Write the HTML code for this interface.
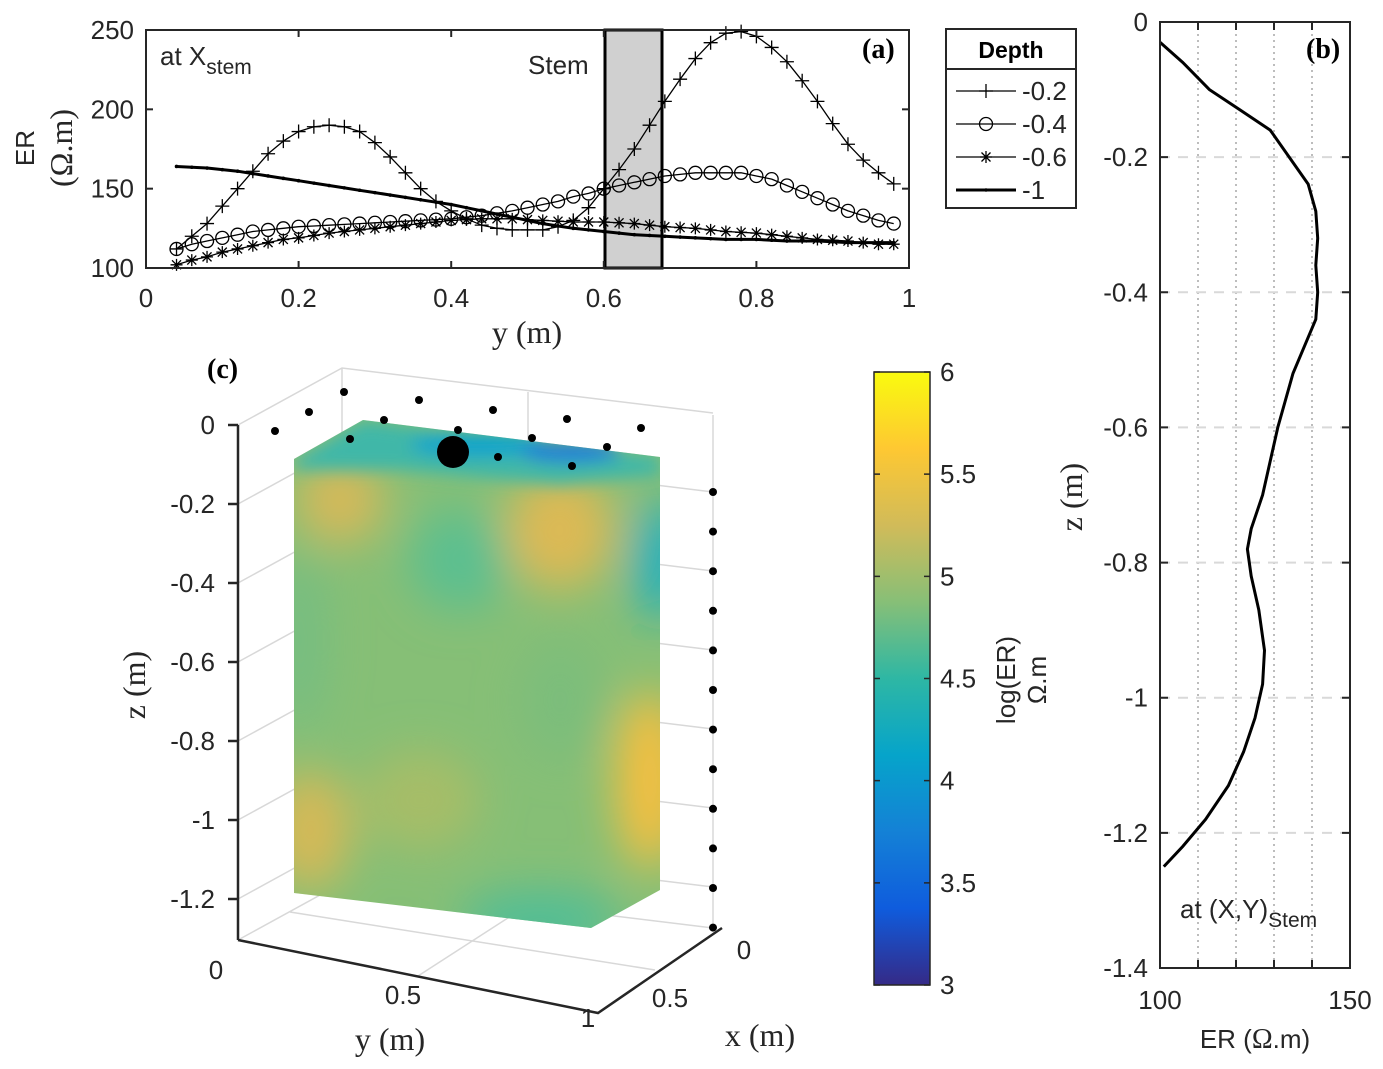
<!DOCTYPE html>
<html><head><meta charset="utf-8"><style>
html,body{margin:0;padding:0;background:#fff}
svg{display:block}
.t{font-family:"Liberation Sans",sans-serif;font-size:26px;fill:#262626}
.s{font-family:"Liberation Serif",serif;font-size:32px;fill:#262626}
.b{font-family:"Liberation Serif",serif;font-size:28px;font-weight:bold;fill:#000}
</style></head><body>
<svg id="fig" width="1383" height="1069" viewBox="0 0 1383 1069" xmlns="http://www.w3.org/2000/svg">
<defs>
<linearGradient id="parula" x1="0" y1="1" x2="0" y2="0">
<stop offset="0" stop-color="#352a87"/><stop offset="0.125" stop-color="#0f5cdd"/><stop offset="0.25" stop-color="#1481d6"/><stop offset="0.375" stop-color="#06a4ca"/><stop offset="0.5" stop-color="#2eb7a4"/><stop offset="0.625" stop-color="#87bf77"/><stop offset="0.75" stop-color="#d1bb59"/><stop offset="0.875" stop-color="#fec832"/><stop offset="1" stop-color="#f9fb0e"/>
</linearGradient>
<clipPath id="boxclip"><polygon points="294,459 363,420 660,457 660,890 591,928 294,893"/></clipPath>
<filter id="blur" x="-50%" y="-50%" width="200%" height="200%"><feGaussianBlur stdDeviation="22"/></filter>
<filter id="blur2" x="-50%" y="-50%" width="200%" height="200%"><feGaussianBlur stdDeviation="8"/></filter>
</defs>

<g id="panelA">
<rect x="605" y="30" width="57" height="238" fill="#d0d0d0" stroke="#000" stroke-width="3"/>
<g id="aMarks"></g>
<rect x="146" y="30" width="763" height="238" fill="none" stroke="#262626" stroke-width="2"/>
<g id="aTicks"></g>
<text class="t" x="160" y="65">at X<tspan font-size="21" dy="9">stem</tspan></text>
<text class="t" x="528" y="74">Stem</text>
<text class="b" x="862" y="58">(a)</text>
<text class="t" transform="translate(34,148) rotate(-90)" text-anchor="middle">ER</text>
<text class="s" transform="translate(72,148) rotate(-90)" text-anchor="middle">(Ω.m)</text>
<text class="s" x="527" y="343" text-anchor="middle">y (m)</text>
</g>

<g id="legend">
<rect x="946" y="29" width="130" height="179" fill="#fff" stroke="#262626" stroke-width="2"/>
<line x1="946" y1="69" x2="1076" y2="69" stroke="#262626" stroke-width="2"/>
<text x="1011" y="58" text-anchor="middle" style="font-family:'Liberation Sans',sans-serif;font-weight:bold;font-size:23px;fill:#000">Depth</text>
<g id="legItems"></g>
</g>

<g id="panelB">
<g id="bGrid"></g>
<path id="bLine" fill="none" stroke="#000" stroke-width="3"/>
<rect x="1160" y="22" width="190" height="946" fill="none" stroke="#262626" stroke-width="2"/>
<g id="bTicks"></g>
<text class="b" x="1306" y="58">(b)</text>
<text class="t" x="1180" y="918">at (X,Y)<tspan font-size="21" dy="9">Stem</tspan></text>
<text class="s" transform="translate(1082,497) rotate(-90)" text-anchor="middle">z (m)</text>
<text class="t" x="1255" y="1048" text-anchor="middle">ER (<tspan class="s" style="font-size:28px">Ω</tspan>.m)</text>
</g>

<g id="panelC">
<g id="cGrid" stroke="#d8d8d8" stroke-width="1.5" fill="none"></g>
<g clip-path="url(#boxclip)">
<rect x="280" y="400" width="400" height="540" fill="#86bf76"/>
<g filter="url(#blur)">
<ellipse cx="340" cy="500" rx="45" ry="45" fill="#d4b95a"/>
<ellipse cx="560" cy="530" rx="55" ry="60" fill="#dcb955"/>
<ellipse cx="460" cy="560" rx="50" ry="50" fill="#5cbf90"/>
<ellipse cx="660" cy="560" rx="25" ry="60" fill="#1eaec4"/>
<ellipse cx="310" cy="830" rx="40" ry="60" fill="#d6b957"/>
<ellipse cx="650" cy="780" rx="35" ry="90" fill="#f5bf40"/>
<ellipse cx="560" cy="700" rx="40" ry="60" fill="#7cbd7b"/>
<ellipse cx="540" cy="920" rx="80" ry="30" fill="#4fbd97"/>
<ellipse cx="300" cy="640" rx="25" ry="90" fill="#74be82"/>
<ellipse cx="420" cy="800" rx="60" ry="50" fill="#a6bd67"/>
</g>
<g filter="url(#blur2)">
<polygon points="294,459 363,420 660,457 660,475 560,485 400,470 294,470" fill="#40b7a8"/>
<ellipse cx="480" cy="445" rx="70" ry="12" fill="#10a4cc"/>
<ellipse cx="570" cy="452" rx="50" ry="10" fill="#1a7fd8"/>
</g>
</g>
<g id="cDots"></g>
<g id="cAxes"></g>
<text class="b" x="207" y="378">(c)</text>
<text class="s" transform="translate(145,685) rotate(-90)" text-anchor="middle">z (m)</text>
<text class="s" x="390" y="1050" text-anchor="middle">y (m)</text>
<text class="s" x="760" y="1046" text-anchor="middle">x (m)</text>
</g>

<g id="colorbar">
<rect x="874" y="372" width="56" height="613" fill="url(#parula)" stroke="#262626" stroke-width="1.5"/>
<g id="cbTicks"></g>
<text class="t" transform="translate(1015,680) rotate(-90)" text-anchor="middle">log(ER)</text>
<text class="t" transform="translate(1046,680) rotate(-90)" text-anchor="middle">Ω.m</text>
</g>
</svg>
<script>
// ---------- Panel (a) data ----------
const aY = [0.04,0.06,0.08,0.10,0.12,0.14,0.16,0.18,0.20,0.22,0.24,0.26,0.28,0.30,0.32,0.34,0.36,0.38,0.40,0.42,0.44,0.46,0.48,0.50,0.52,0.54,0.56,0.58,0.60,0.62,0.64,0.66,0.68,0.70,0.72,0.74,0.76,0.78,0.80,0.82,0.84,0.86,0.88,0.90,0.92,0.94,0.96,0.98];
const erD02 = [112,120,128,139,150,161,172,180,186,189,190,189,186,179,170,160,150,142,136,131,127,125,124,124,124,126,130,138,150,162,175,190,205,219,232,242,248,249,246,239,230,218,205,191,178,168,160,153];
const erD04 = [112,115,117,119,121,123,124,125,126,126.5,127,127.5,128,128.5,129,129.5,130,130.5,131,132,133,134.5,136,138,140,142,145,147,150,152,154,156,158,159,160,160,160,160,158,156,152,148,144,140,136,133,130,128];
const erD06 = [102,105,107,110,112,114,116,118,119,120.5,122,123,124,125,126,127,128,129,130,130.5,131,131,131,130.5,130,129.5,129,129,129,128.5,128,127,126,125.5,125,124,123,122.5,122,121,120,119,118,117.5,117,116,115,115];
const erD10 = [164,163.5,163,162,161,159.5,158,156.5,155,153.5,152,150.5,149,147.5,146,144.5,143,141.5,140,138,136,134,132,130,128,126.5,125,124,123,122,121,120.5,120,119.5,119,118.5,118,118,118,117.5,117,117,117,116.5,116,116,116,116];
const aXTicks = [0,0.2,0.4,0.6,0.8,1];
const aXTickLabels = ["0","0.2","0.4","0.6","0.8","1"];
const aYTicks = [100,150,200,250];
const depthLabels = ["-0.2","-0.4","-0.6","-1"];
// ---------- Panel (b) data ----------
const bZ  = [-0.03,-0.06,-0.10,-0.13,-0.16,-0.20,-0.24,-0.28,-0.32,-0.36,-0.40,-0.44,-0.48,-0.52,-0.56,-0.60,-0.65,-0.70,-0.75,-0.78,-0.82,-0.87,-0.93,-0.98,-1.03,-1.08,-1.13,-1.18,-1.22,-1.25];
const bER = [100,106,113,121,129,134,139,141,141.5,141,141.5,141,138,135,133,131,129,127,124,123,124,126,127.5,127,125,122,118,112,106,101];
const bXTicks = [100,150];
const bGridX = [110,120,130,140];
const bZTicks = [0,-0.2,-0.4,-0.6,-0.8,-1,-1.2,-1.4];
// ---------- Panel (c) ----------
const cZTicks = [0,-0.2,-0.4,-0.6,-0.8,-1,-1.2];
const cbTicks = [3,3.5,4,4.5,5,5.5,6];

const NS="http://www.w3.org/2000/svg";
function mk(tag, attrs, parent){const e=document.createElementNS(NS,tag);for(const k in attrs)e.setAttribute(k,attrs[k]);parent.appendChild(e);return e;}
function txt(str,attrs,parent){const e=mk('text',attrs,parent);e.textContent=str;return e;}

const ax = v => 146 + v*763;
const ay = v => 268 - (v-100)/150*238;
const bx = v => 1160 + (v-100)/50*190;
const bz = v => 22 - v/1.4*946;
const cz = v => 425 - v/0.2*79;
const cbY = v => 985 - (v-3)/3*613;

const aT=document.getElementById('aTicks');
aXTicks.forEach((t,i)=>{
  const l=mk('line',{x1:ax(t),y1:268,x2:ax(t),y2:261,stroke:'#262626','stroke-width':2},aT);
  
  
  const l2=mk('line',{x1:ax(t),y1:30,x2:ax(t),y2:37,stroke:'#262626','stroke-width':2},aT);
  
  
  const tx=txt(aXTickLabels[i],{class:'t',x:ax(t),y:307,'text-anchor':'middle'},aT);
  
  
});
aYTicks.forEach(t=>{
  const l=mk('line',{x1:146,y1:ay(t),x2:153,y2:ay(t),stroke:'#262626','stroke-width':2},aT);
  
  
  const l2=mk('line',{x1:902,y1:ay(t),x2:909,y2:ay(t),stroke:'#262626','stroke-width':2},aT);
  
  
  const tx=txt(String(t),{class:'t',x:134,y:ay(t)+9,'text-anchor':'end'},aT);
  
  
});

function marker(type,x,y,g){
  if(type==='plus'){
    mk('path',{d:`M${x-7},${y}H${x+7}M${x},${y-7}V${y+7}`,stroke:'#000','stroke-width':1.3,fill:'none'},g);
  }else if(type==='circle'){
    mk('circle',{cx:x,cy:y,r:6.5,stroke:'#000','stroke-width':1.3,fill:'none'},g);
  }else if(type==='star'){
    mk('path',{d:`M${x-6},${y}H${x+6}M${x},${y-6}V${y+6}M${x-4.5},${y-4.5}L${x+4.5},${y+4.5}M${x-4.5},${y+4.5}L${x+4.5},${y-4.5}`,stroke:'#000','stroke-width':1.3,fill:'none'},g);
  }else if(type==='dot'){
    mk('circle',{cx:x,cy:y,r:1.8,fill:'#000'},g);
  }
}
const series=[[erD02,'plus',1.3,'series-depth-0.2'],[erD04,'circle',1.3,'series-depth-0.4'],[erD06,'star',1.3,'series-depth-0.6'],[erD10,'dot',3,'series-depth-1']];
const aM=document.getElementById('aMarks');
series.forEach(([vals,type,w,name])=>{
  const g=mk('g',{},aM);
  
  
  const d=vals.map((v,i)=>(i?'L':'M')+ax(aY[i]).toFixed(1)+','+ay(v).toFixed(1)).join('');
  mk('path',{d:d,fill:'none',stroke:'#000','stroke-width':w,'stroke-linejoin':'round'},g);
  vals.forEach((v,i)=>marker(type,ax(aY[i]),ay(v),g));
});
const lg=document.getElementById('legItems');
const types=['plus','circle','star','dot'];
depthLabels.forEach((lab,i)=>{
  const y=91+i*33;
  const g=mk('g',{},lg);
  
  
  mk('line',{x1:956,y1:y,x2:1016,y2:y,stroke:'#000','stroke-width':i===3?3:1.3},g);
  marker(types[i],986,y,g);
  txt(lab,{class:'t',x:1022,y:y+9},g);
});

const bG=document.getElementById('bGrid');
bGridX.forEach(v=>{
  const l=mk('line',{x1:bx(v),y1:22,x2:bx(v),y2:968,stroke:'#bdbdbd','stroke-width':2,'stroke-dasharray':'2,4'},bG);
  
  
});
bZTicks.slice(1,-1).forEach(v=>{
  const l=mk('line',{x1:1160,y1:bz(v),x2:1350,y2:bz(v),stroke:'#d9d9d9','stroke-width':2,'stroke-dasharray':'10,8'},bG);
  
  
});
document.getElementById('bLine').setAttribute('d',bER.map((v,i)=>(i?'L':'M')+bx(v).toFixed(1)+','+bz(bZ[i]).toFixed(1)).join(''));
const bT=document.getElementById('bTicks');
bZTicks.forEach(t=>{
  const l=mk('path',{d:`M1160,${bz(t)}h8M1350,${bz(t)}h-8`,stroke:'#262626','stroke-width':2},bT);
  
  
  const tx=txt(t===0?'0':String(t),{class:'t',x:1148,y:bz(t)+9,'text-anchor':'end'},bT);
  
  
});
bGridX.concat(bXTicks).forEach(v=>{
  const l=mk('path',{d:`M${bx(v)},968v-8M${bx(v)},22v8`,stroke:'#262626','stroke-width':2},bT);
  
  
});
bXTicks.forEach(v=>{
  const tx=txt(String(v),{class:'t',x:bx(v),y:1009,'text-anchor':'middle'},bT);
  
  
});

const cG=document.getElementById('cGrid');
cZTicks.forEach(t=>{
  const y=cz(t);
  mk('polyline',{points:`238,${y} 342,${y-57} 713,${y-12}`},cG);
});
mk('line',{x1:342,y1:368,x2:342,y2:883},cG);
mk('line',{x1:528,y1:392,x2:528,y2:905},cG);
mk('line',{x1:713,y1:415,x2:713,y2:928},cG);
mk('line',{x1:290,y1:912,x2:655,y2:970},cG);
mk('line',{x1:418,y1:976,x2:528,y2:905},cG);
mk('polyline',{points:'238,940 342,883 713,928'},cG);
const cA=document.getElementById('cAxes');
const zl=mk('path',{d:'M238,425V940M238,940L598,1013L722,928',stroke:'#262626','stroke-width':2.5,fill:'none'},cA);


cZTicks.forEach(t=>{
  mk('line',{x1:228,y1:cz(t),x2:238,y2:cz(t),stroke:'#262626','stroke-width':2.5},cA);
  const tx=txt(t===0?'0':String(t),{class:'t',x:215,y:cz(t)+9,'text-anchor':'end'},cA);
  
  
});
[['0',216,979],['0.5',403,1004],['1',588,1027],['0',744,959],['0.5',670,1007]].forEach(([s,x,y])=>{
  const tx=txt(s,{class:'t',x:x,y:y,'text-anchor':'middle'},cA);
  
  
});
const cD=document.getElementById('cDots');
[[275,431],[309,412],[344,392],[350,439],[384,420],[419,400],[458,430],[498,457],[493,410],[532,438],[567,419],[572,466],[607,447],[641,428]].forEach(([x,y])=>{
  const c=mk('circle',{cx:x,cy:y,r:4,fill:'#000'},cD);
  
  
});
for(let i=0;i<12;i++){
  const c=mk('circle',{cx:713,cy:492+i*39.6,r:4,fill:'#000'},cD);
  
  
}
const stem=mk('circle',{cx:453,cy:452,r:16,fill:'#000'},cD);



const cbT=document.getElementById('cbTicks');
cbTicks.forEach(v=>{
  mk('path',{d:`M874,${cbY(v)}h6M930,${cbY(v)}h-6`,stroke:'#262626','stroke-width':1.5},cbT);
  const tx=txt(String(v),{class:'t',x:940,y:cbY(v)+9},cbT);
  
  
});
</script>
</body></html>
